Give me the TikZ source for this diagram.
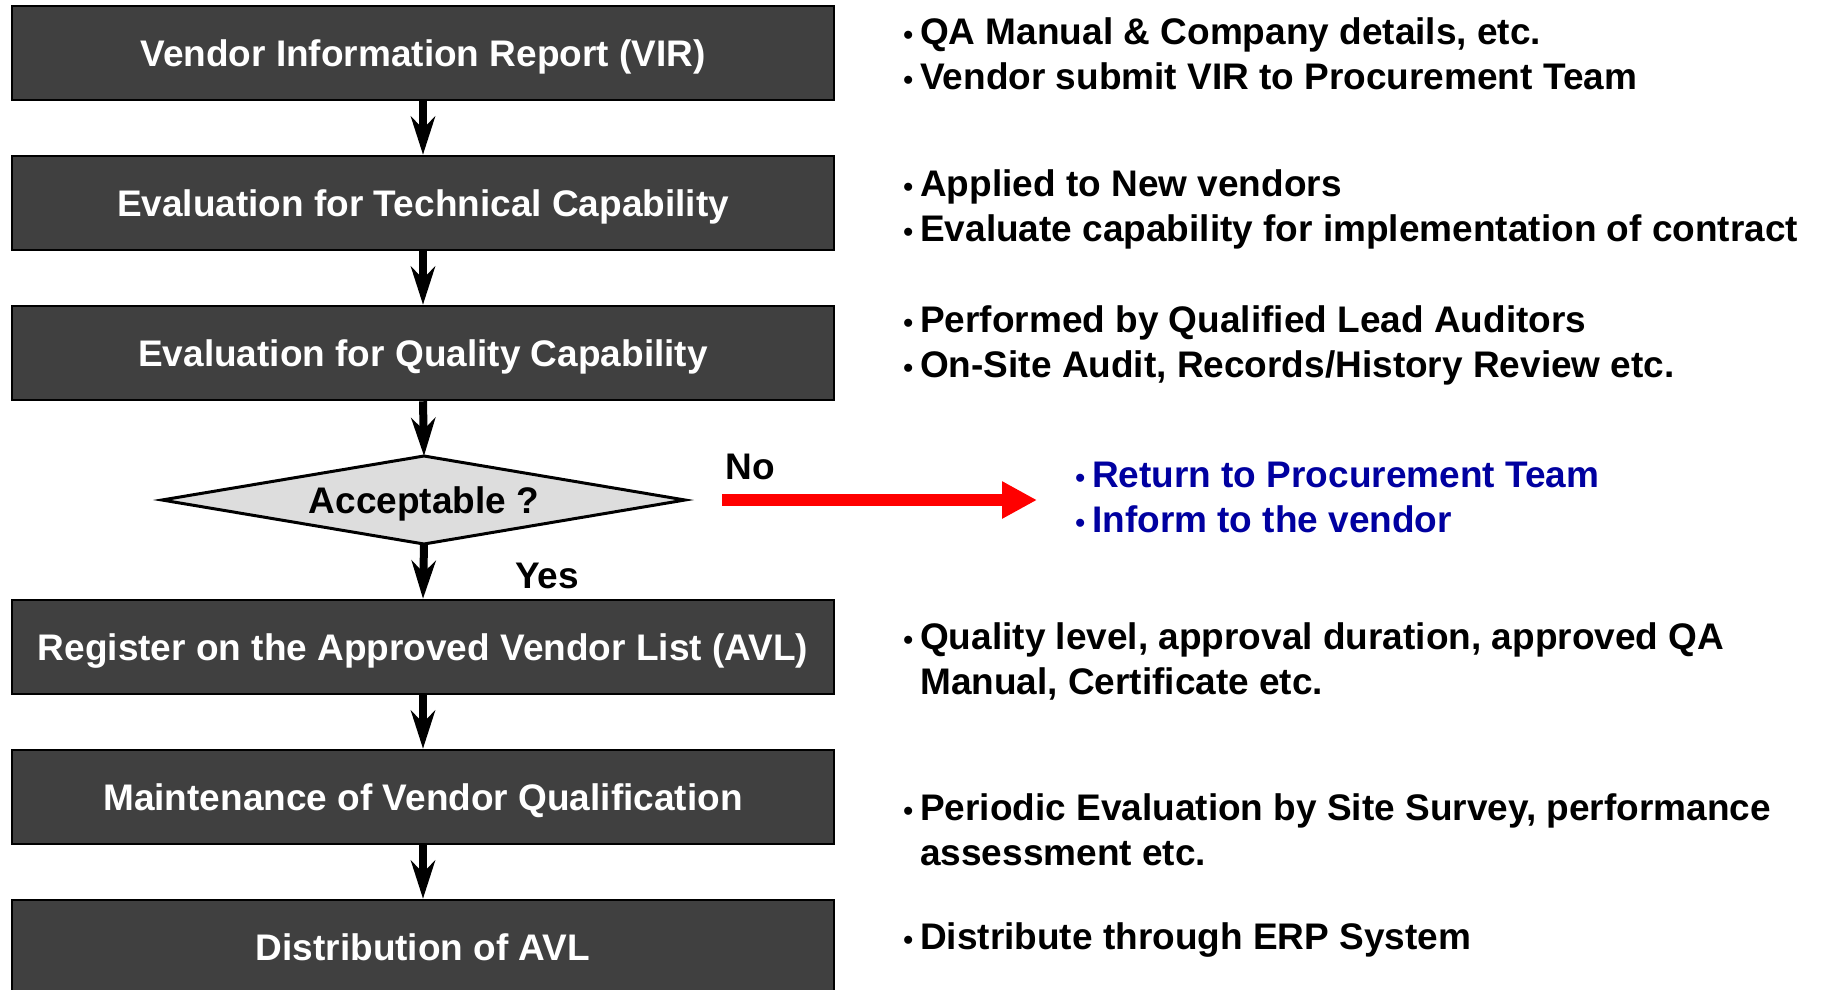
\documentclass[tikz,border=0pt]{standalone}
\usepackage{fontspec}
\setmainfont{Liberation Sans}
\usetikzlibrary{arrows.meta}
\definecolor{boxgray}{HTML}{404040}
\definecolor{diagray}{HTML}{DDDDDD}
\definecolor{noteblue}{HTML}{0000A0}
\definecolor{nored}{HTML}{FF0000}
\newcommand{\bmark}{\leavevmode\llap{{\fontsize{28}{28}\selectfont\char"2022}\hspace{7pt}}}
\begin{document}
\begin{tikzpicture}[x=1pt,y=-1pt,
  stepbox/.style={draw=black, line width=2.5pt, fill=boxgray, minimum width=822pt,
    minimum height=94pt, inner sep=0pt, text height=26.5pt, text depth=0pt,
    font=\bfseries\fontsize{37}{44}\selectfont, text=white},
  labeltext/.style={inner sep=0pt, text height=26.5pt, text depth=0pt,
    font=\bfseries\fontsize{37}{44}\selectfont},
  notetext/.style={inner sep=0pt, anchor=base west,
    font=\bfseries\fontsize{37}{45.5}\selectfont},
  flowarrow/.style={line width=8pt, -{Stealth[length=38pt, width=24pt, inset=12pt]}},
  noarrow/.style={line width=12pt, nored, -{Triangle[length=35pt, width=35pt]}},
  diastyle/.style={draw=black, line width=3pt, fill=diagray, line join=miter}
]
\useasboundingbox (0,0) rectangle (1821,989);

% boxes
\node[stepbox] (vir)  at (423,53)  {Vendor Information Report (VIR)};
\node[stepbox] (tech) at (423,203) {Evaluation for Technical Capability};
\node[stepbox] (qual) at (423,353) {Evaluation for Quality Capability};
\node[stepbox] (avl)  at (423,647) {Register on the Approved Vendor List (AVL)};
\node[stepbox] (main) at (423,797) {Maintenance of Vendor Qualification};
\node[stepbox] (dist) at (423,947) {Distribution of AVL};

% diamond
\coordinate (dt) at (424,456);
\coordinate (dr) at (685,500);
\coordinate (db) at (424,544);
\coordinate (dl) at (162,500);
\draw[diastyle] (dt) -- (dr) -- (db) -- (dl) -- cycle;
\node[labeltext] (acc) at (424,500) {Acceptable ?};

% flow arrows
\draw[flowarrow] (vir.south) -- (tech.north);
\draw[flowarrow] (tech.south) -- (qual.north);
\draw[flowarrow] (qual.south) -- (dt);
\draw[flowarrow] (db) -- (avl.north);
\draw[flowarrow] (avl.south) -- (main.north);
\draw[flowarrow] (main.south) -- (dist.north);

% No / Yes
\node[labeltext] (no) at (750,466) {No};
\node[labeltext] (yes) at (547,575) {Yes};
\coordinate (nostart) at (722,500);
\coordinate (noend) at (1037,500);
\draw[noarrow] (nostart) -- (noend);

% notes
\node[notetext] (n1) at (920,44) {\parbox[t]{880pt}{\bmark QA Manual \& Company details, etc.\\\bmark Vendor submit VIR to Procurement Team}};
\node[notetext] (n2) at (920,196) {\parbox[t]{880pt}{\bmark Applied to New vendors\\\bmark Evaluate capability for implementation of contract}};
\node[notetext] (n3) at (920,332) {\parbox[t]{880pt}{\bmark Performed by Qualified Lead Auditors\\\bmark On-Site Audit, Records/History Review etc.}};
\node[notetext, text=noteblue] (n4) at (1092,487) {\parbox[t]{700pt}{\bmark Return to Procurement Team\\\bmark Inform to the vendor}};
\node[notetext] (n5) at (920,649) {\parbox[t]{880pt}{\bmark Quality level, approval duration, approved QA\\Manual, Certificate etc.}};
\node[notetext] (n6) at (920,820) {\parbox[t]{880pt}{\bmark Periodic Evaluation by Site Survey, performance\\assessment etc.}};
\node[notetext] (n7) at (920,949) {\parbox[t]{880pt}{\bmark Distribute through ERP System}};
\end{tikzpicture}
\end{document}
